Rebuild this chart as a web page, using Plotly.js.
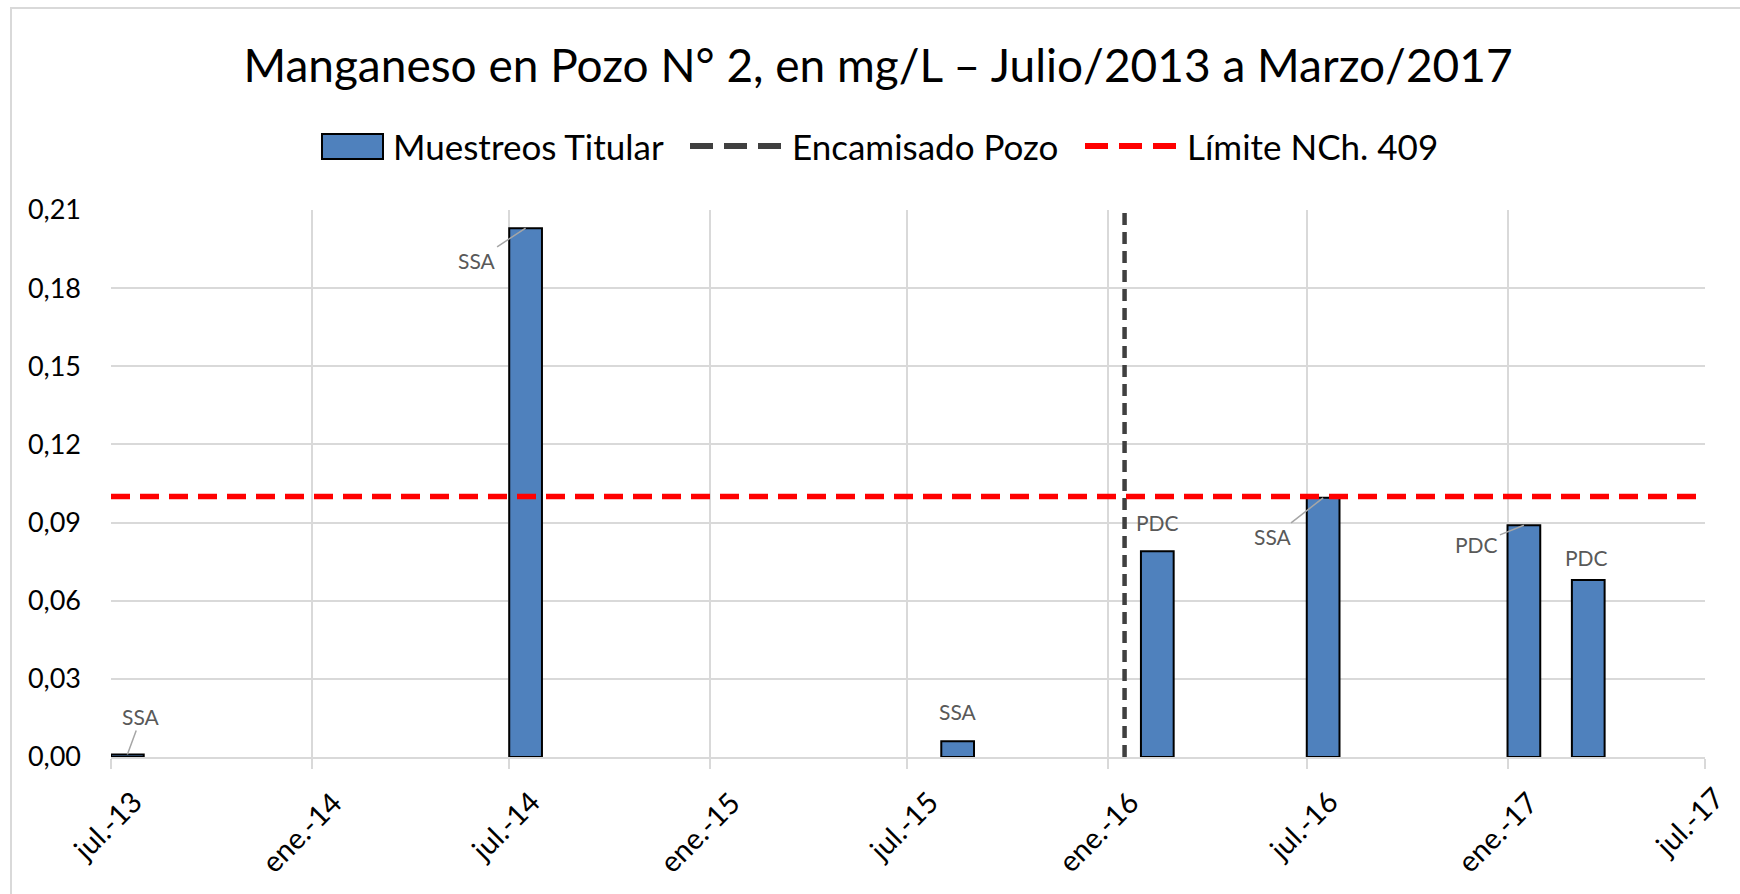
<!DOCTYPE html>
<html>
<head>
<meta charset="utf-8">
<script src="https://cdn.plot.ly/plotly-3.0.1.min.js"></script>
<style>
  html, body { margin: 0; padding: 0; background: #ffffff; overflow: hidden; }
  #wrap { position: relative; width: 1740px; height: 894px; }
  #chart { position: absolute; left: 0; top: 0; width: 1740px; height: 894px; }
  #frame { position: absolute; left: 10px; top: 7px; width: 1760px; height: 920px;
           border: 2px solid #d9d9d9; pointer-events: none; box-sizing: border-box; }
</style>
</head>
<body>
<div id="wrap">
  <div id="chart"></div>
  <div id="frame"></div>
</div>
<script>
// ---- Data ----
const sampleDates = ['2013-07-16', '2014-07-16', '2015-08-16', '2016-02-15', '2016-07-16', '2017-01-16', '2017-03-16'];
const manganeso   = [0.001, 0.203, 0.006, 0.079, 0.0995, 0.089, 0.068];
const sampleSource = ['SSA', 'SSA', 'SSA', 'PDC', 'SSA', 'PDC', 'PDC'];

const casingDate = '2016-01-16';
const limitValue = 0.10;
const limitDates = ['2013-07-01', '2017-07-01'];

const tickDates  = ['2013-07-01', '2014-01-01', '2014-07-01', '2015-01-01', '2015-07-01',
                    '2016-01-01', '2016-07-01', '2017-01-01', '2017-07-01'];
const tickLabels = ['jul.-13', 'ene.-14', 'jul.-14', 'ene.-15', 'jul.-15',
                    'ene.-16', 'jul.-16', 'ene.-17', 'jul.-17'];

const seriesNames = ['Muestreos Titular', 'Encamisado Pozo', 'Límite NCh. 409'];

// ---- Label placement (style, pixels) ----
const labelLeader = [true, true, false, false, true, true, false];
const labelDx = [14, -49, 0, 0, -50, -47, -2];
const labelDy = [-38, 32, -30, -29, 39, 19, -22];
const tickLabelNudgeX = [0, 0, 0, 0, 0, 0, 0, 0, -12];
const tickLabelNudgeY = [0, 0, 0, 0, 0, 0, 0, 0, 4];

const FONT = 'Lato, "Open Sans", sans-serif';
const TICK_FONT_SIZE = 29;
const DAY = 86400000;

// plot area in pixels
const PL = 111, PR = 35, PT = 210, PB = 137;
const PW = 1740 - PL - PR, PH = 894 - PT - PB;
const px = v => (v - PL) / PW;            // page x -> paper x
const py = v => (894 - PB - v) / PH;      // page y -> paper y

const traces = [
  {
    type: 'bar',
    name: seriesNames[0],
    x: sampleDates,
    y: manganeso,
    width: sampleDates.map(() => 30 * DAY),
    marker: { color: '#4f81bd', line: { color: '#000000', width: 2 } },
    showlegend: false
  },
  {
    type: 'scatter',
    mode: 'lines',
    name: seriesNames[1],
    x: [casingDate, casingDate],
    y: [0, 0.21],
    line: { color: '#404040', width: 4.5, dash: '12px,7px' },
    showlegend: false
  },
  {
    type: 'scatter',
    mode: 'lines',
    name: seriesNames[2],
    x: limitDates,
    y: [limitValue, limitValue],
    line: { color: '#ff0000', width: 5.5, dash: '19px,10px' },
    showlegend: false
  }
];

const annotations = sampleDates.map((d, i) => {
  const a = {
    x: d, y: manganeso[i], xref: 'x', yref: 'y',
    text: sampleSource[i],
    font: { family: FONT, size: 21, color: '#595959' }
  };
  if (labelLeader[i]) {
    a.showarrow = true;
    a.arrowhead = 0;
    a.arrowwidth = 1.5;
    a.arrowcolor = '#a6a6a6';
    a.standoff = 0;
    a.ax = labelDx[i];
    a.ay = labelDy[i];
  } else {
    a.showarrow = false;
    a.xshift = labelDx[i];
    a.yshift = -labelDy[i];
  }
  return a;
});

// ---- rotated x tick labels (Excel-style: text end sits right of / below the tick) ----
const ctx = document.createElement('canvas').getContext('2d');
ctx.font = TICK_FONT_SIZE + 'px Lato';
const K = Math.SQRT1_2 / 2;  // half-length projected on each screen axis for 45 deg
tickDates.forEach((d, i) => {
  const L = ctx.measureText(tickLabels[i]).width;
  annotations.push({
    x: d, y: 0, xref: 'x', yref: 'y',
    text: tickLabels[i], showarrow: false,
    textangle: -45,
    xanchor: 'center', yanchor: 'middle',
    xshift: 24 - K * L + tickLabelNudgeX[i],
    yshift: -(40 + K * L) + tickLabelNudgeY[i],
    font: { family: FONT, size: TICK_FONT_SIZE, color: '#000000' }
  });
});

// ---- custom legend (matching the wide Excel legend keys) ----
const legendY = 146;
const legendTextX = [391, 790, 1185];
legendTextX.forEach((x, i) => {
  annotations.push({
    xref: 'paper', yref: 'paper',
    x: px(x), y: py(legendY),
    xanchor: 'left', yanchor: 'middle',
    text: seriesNames[i], showarrow: false,
    font: { family: FONT, size: 35, color: '#000000' }
  });
});

const shapes = [
  { type: 'rect', xref: 'paper', yref: 'paper',
    x0: px(322), x1: px(383), y0: py(159), y1: py(134),
    fillcolor: '#4f81bd', line: { color: '#000000', width: 2 } },
  { type: 'line', xref: 'paper', yref: 'paper',
    x0: px(690), x1: px(783), y0: py(legendY), y1: py(legendY),
    line: { color: '#404040', width: 6, dash: '23px,11px' } },
  { type: 'line', xref: 'paper', yref: 'paper',
    x0: px(1085), x1: px(1178), y0: py(legendY), y1: py(legendY),
    line: { color: '#ff0000', width: 6, dash: '23px,11px' } }
];

const layout = {
  width: 1740,
  height: 894,
  paper_bgcolor: '#ffffff',
  plot_bgcolor: '#ffffff',
  separators: ',.',
  margin: { l: PL, r: PR, t: PT, b: PB },
  font: { family: FONT, color: '#000000' },
  title: {
    text: 'Manganeso en Pozo N° 2, en mg/L – Julio/2013 a Marzo/2017',
    font: { family: FONT, size: 46, color: '#000000' },
    x: 878 / 1740, xanchor: 'center',
    y: 1 - 66 / 894, yref: 'container', yanchor: 'middle'
  },
  showlegend: false,
  xaxis: {
    type: 'date',
    range: ['2013-07-01', '2017-07-01'],
    tickmode: 'array',
    tickvals: tickDates,
    ticktext: tickLabels,
    showticklabels: false,
    showgrid: true,
    gridcolor: '#d9d9d9',
    gridwidth: 2,
    showline: true,
    linecolor: '#d9d9d9',
    linewidth: 2,
    ticks: 'outside',
    ticklen: 10,
    tickcolor: '#d9d9d9',
    tickwidth: 2,
    zeroline: false
  },
  yaxis: {
    range: [0, 0.21],
    tickmode: 'linear',
    tick0: 0,
    dtick: 0.03,
    tickformat: '.2f',
    tickfont: { family: FONT, size: 27, color: '#000000' },
    showgrid: true,
    gridcolor: '#d9d9d9',
    gridwidth: 2,
    showline: false,
    zeroline: false,
    ticks: '',
    ticklabelstandoff: 29
  },
  bargap: 0,
  annotations: annotations,
  shapes: shapes
};

Plotly.newPlot('chart', traces, layout, { displayModeBar: false, staticPlot: true });
</script>
</body>
</html>
